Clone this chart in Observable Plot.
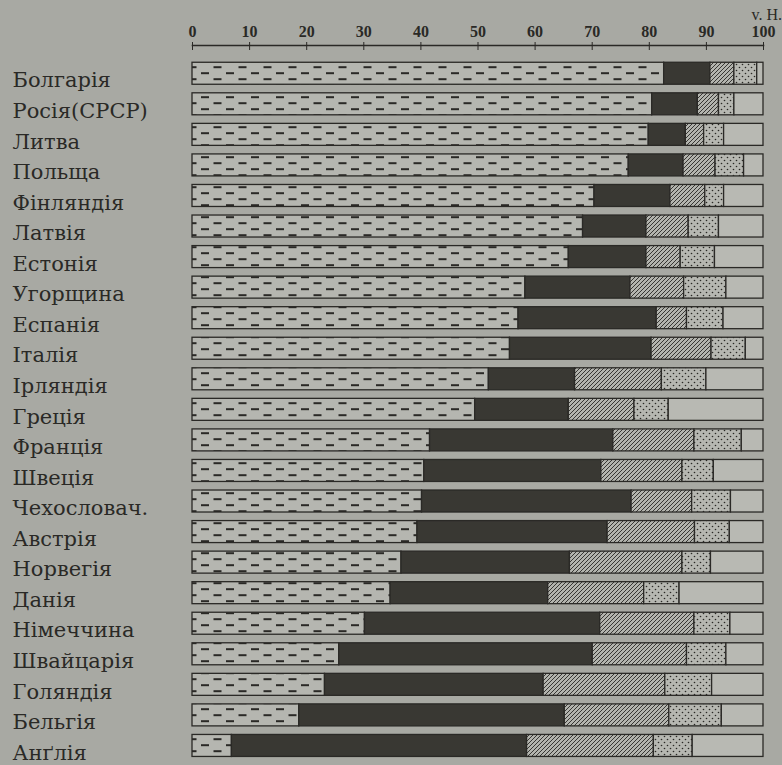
<!DOCTYPE html>
<html>
<head>
<meta charset="utf-8">
<script src="https://cdn.jsdelivr.net/npm/d3@7"></script>
<script src="https://cdn.jsdelivr.net/npm/@observablehq/plot@0.6"></script>
<style>
  html, body { margin: 0; padding: 0; background: #a8a9a3; }
  #chart svg { display: block; }
</style>
</head>
<body>
<div id="chart"></div>
<script>
const countries = ["Болгарія","Росія(СРСР)","Литва","Польща","Фінляндія","Латвія","Естонія","Угорщина","Еспанія","Італія","Ірляндія","Греція","Франція","Швеція","Чехословач.","Австрія","Норвегія","Данія","Німеччина","Швайцарія","Голяндія","Бельгія","Анґлія"];
const agriculture = [82.6,80.5,79.9,76.4,70.4,68.4,65.9,58.3,57.1,55.6,51.9,49.5,41.6,40.6,40.2,39.4,36.6,34.7,30.2,25.7,23.2,18.7,6.9];
const industry    = [8.1,8.0,6.5,9.6,13.3,11.1,13.6,18.4,24.2,24.8,15.1,16.4,32.1,31.0,36.7,33.3,29.5,27.6,41.2,44.4,38.3,46.5,51.7];
const trade       = [4.2,3.7,3.2,5.6,6.1,7.4,6.0,9.4,5.3,10.5,15.2,11.5,14.2,14.2,10.6,15.3,19.7,16.8,16.5,16.5,21.3,18.3,22.2];
const services    = [4.0,2.7,3.5,5.0,3.3,5.3,6.0,7.4,6.4,6.0,7.8,6.0,8.3,5.5,6.8,6.1,5.0,6.2,6.3,6.9,8.2,9.2,6.8];
const other       = [1.1,5.1,6.9,3.4,6.9,7.8,8.5,6.5,7.0,3.1,10.0,16.6,3.8,8.7,5.7,5.9,9.2,14.7,5.8,6.5,9.0,7.3,12.4];
const segments = ["agriculture","industry","trade","services","other"];
const tickValues = [0,10,20,30,40,50,60,70,80,90,100];
const unitLabel = "v. H.";

const series = [agriculture, industry, trade, services, other];
const data = countries.flatMap((c, i) => segments.map((s, j) => ({country: c, seg: s, value: series[j][i]})));

const ink = "#2a2926";
const plot = Plot.plot({
  width: 782,
  height: 765,
  marginLeft: 192,
  marginRight: 19,
  marginTop: 45,
  marginBottom: 0,
  style: {background: "#a8a9a3", color: ink},
  x: {domain: [0, 100], axis: null, label: null},
  y: {domain: countries, range: [53.7, 765], padding: 0.28, round: false, axis: null},
  color: {domain: segments, range: ["url(#p-dash)", "#393833", "url(#p-hatch)", "url(#p-dots)", "#b8b9b3"]},
  marks: [
    Plot.barX(data, Plot.stackX({x: "value", y: "country", fill: "seg", stroke: ink, strokeWidth: 1.3})),
    Plot.frame({anchor: "top", stroke: ink, strokeWidth: 1.6}),
    Plot.axisX({anchor: "top", ticks: tickValues, label: null, tickSize: 8, dy: 4, tickPadding: 5, fontSize: 16, fontFamily: "Liberation Serif", fontWeight: "bold", fill: ink}),
    Plot.text(countries, {y: d => d, frameAnchor: "left", textAnchor: "start", dx: -180, dy: 7, fontSize: 21, fontFamily: "DejaVu Serif", fill: ink}),
    Plot.text([unitLabel], {frameAnchor: "top-right", textAnchor: "start", lineAnchor: "bottom", dx: -12, dy: -26, fontSize: 16, fontFamily: "Liberation Serif", fill: ink})
  ]
});

// patterns
const svg = d3.select(plot);
const defs = svg.insert("defs", ":first-child");
const dash = defs.append("pattern").attr("id", "p-dash").attr("patternUnits", "userSpaceOnUse")
  .attr("x", 0).attr("y", 0.2).attr("width", 25).attr("height", 12);
dash.append("rect").attr("width", 25).attr("height", 12).attr("fill", "#b5b6b0");
dash.append("path").attr("d", "M1,1H9M13.5,7H21.5").attr("stroke", ink).attr("stroke-width", 1.8);

const hatch = defs.append("pattern").attr("id", "p-hatch").attr("patternUnits", "userSpaceOnUse")
  .attr("width", 4).attr("height", 4);
hatch.append("rect").attr("width", 4).attr("height", 4).attr("fill", "#b3b4ae");
hatch.append("path").attr("d", "M0,4L4,0M-1,1L1,-1M3,5L5,3").attr("stroke", ink).attr("stroke-width", 0.9);

const dots = defs.append("pattern").attr("id", "p-dots").attr("patternUnits", "userSpaceOnUse")
  .attr("width", 6).attr("height", 6);
dots.append("rect").attr("width", 6).attr("height", 6).attr("fill", "#b6b7b1");
dots.append("circle").attr("cx", 1.5).attr("cy", 1.5).attr("r", 0.8).attr("fill", ink);
dots.append("circle").attr("cx", 4.5).attr("cy", 4.5).attr("r", 0.8).attr("fill", ink);

document.getElementById("chart").append(plot);
</script>
</body>
</html>
